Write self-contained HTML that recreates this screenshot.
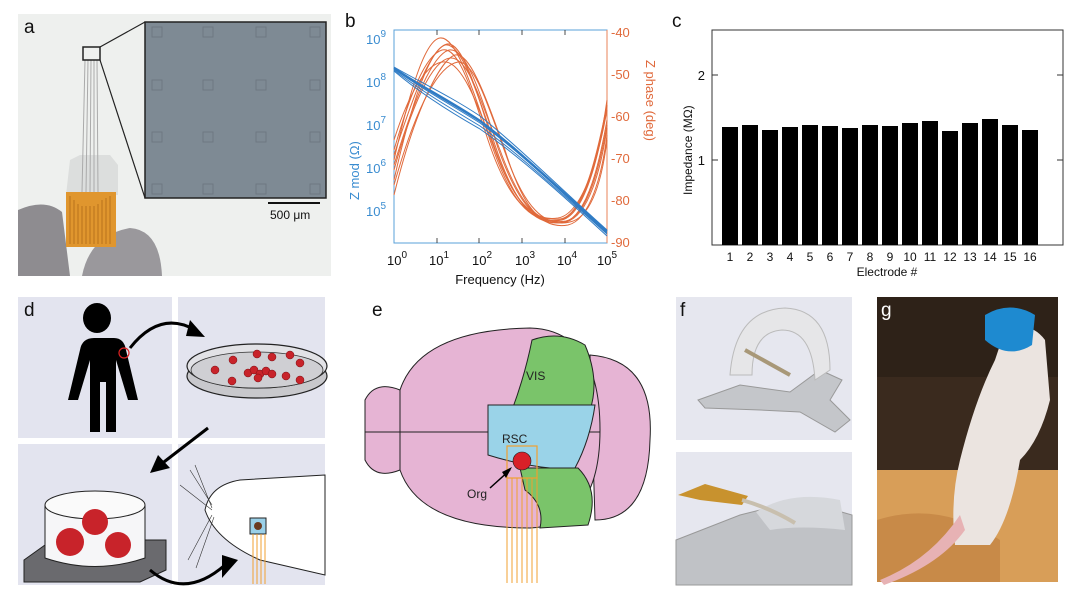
<!DOCTYPE html>
<html><head><meta charset="utf-8"><style>
html,body{margin:0;padding:0;background:#fff;}
svg{display:block;font-family:"Liberation Sans",sans-serif;}
</style></head><body>
<svg width="1080" height="598" viewBox="0 0 1080 598" xmlns="http://www.w3.org/2000/svg">
<!-- panel a -->
<rect x="18" y="14" width="313" height="262" fill="#eef0ee"/>
<path d="M18 210 Q45 198 62 212 L70 276 L18 276Z" fill="#8e8c90"/>
<path d="M82 276 Q90 235 130 228 Q160 230 162 276Z" fill="#9a989c"/>
<path d="M70 160 L80 155 L110 155 L118 165 L118 195 L66 195Z" fill="#dcdedd"/>
<rect x="66" y="192" width="50" height="55" fill="#e0962e"/>
<g stroke="#b06a18" stroke-width="0.8" fill="none"><path d="M70 196 v48 M74 200 v44 M78 204 v40 M82 206 v38 M86 206 v38 M90 206 v38 M94 206 v38 M98 204 v40 M102 200 v44 M106 198 v46 M110 196 v48"/></g>
<g stroke="#aaa" stroke-width="1"><path d="M85 60 L82 192 M88 60 L86 192 M91 60 L90 192 M94 60 L94 192 M97 60 L98 192"/></g>
<rect x="83" y="47" width="17" height="13" fill="none" stroke="#222" stroke-width="1.5"/>
<path d="M100 47 L145 22 M100 60 L145 198" stroke="#222" stroke-width="1.2"/>
<rect x="145" y="22" width="181" height="176" fill="#7e8a94" stroke="#222" stroke-width="1.5"/>
<g fill="none" stroke="#6e7882" stroke-width="1">
<rect x="152" y="27" width="10" height="10"/><rect x="203" y="27" width="10" height="10"/><rect x="256" y="27" width="10" height="10"/><rect x="310" y="27" width="10" height="10"/>
<rect x="152" y="80" width="10" height="10"/><rect x="203" y="80" width="10" height="10"/><rect x="256" y="80" width="10" height="10"/><rect x="310" y="80" width="10" height="10"/>
<rect x="152" y="132" width="10" height="10"/><rect x="203" y="132" width="10" height="10"/><rect x="256" y="132" width="10" height="10"/><rect x="310" y="132" width="10" height="10"/>
<rect x="152" y="184" width="10" height="10"/><rect x="203" y="184" width="10" height="10"/><rect x="256" y="184" width="10" height="10"/><rect x="310" y="184" width="10" height="10"/>
</g>
<line x1="268" y1="203" x2="320" y2="203" stroke="#111" stroke-width="2"/>
<text x="270" y="219" font-size="12" fill="#111">500 μm</text>
<text x="24" y="33" font-size="19" fill="#111">a</text>

<!-- panel b -->
<text x="345" y="27" font-size="19" fill="#111">b</text>
<rect x="394" y="30" width="213" height="213" fill="#fff" stroke="#5aa0d8" stroke-width="1"/>
<line x1="607" y1="30" x2="607" y2="243" stroke="#e8835a"/>
<g font-size="13" fill="#3a8cd0" text-anchor="end">
<text x="386" y="44">10<tspan font-size="10" dy="-7">9</tspan></text>
<text x="386" y="87">10<tspan font-size="10" dy="-7">8</tspan></text>
<text x="386" y="130">10<tspan font-size="10" dy="-7">7</tspan></text>
<text x="386" y="173">10<tspan font-size="10" dy="-7">6</tspan></text>
<text x="386" y="216">10<tspan font-size="10" dy="-7">5</tspan></text>
</g>
<text transform="translate(359,200) rotate(-90)" font-size="13" fill="#3a8cd0">Z mod (Ω)</text>
<g font-size="13" fill="#e06a3c">
<text x="611" y="37">-40</text><text x="611" y="79">-50</text><text x="611" y="121">-60</text>
<text x="611" y="163">-70</text><text x="611" y="205">-80</text><text x="611" y="247">-90</text>
</g>
<text transform="translate(646,60) rotate(90)" font-size="13" fill="#e06a3c">Z phase (deg)</text>
<g font-size="13" fill="#111" text-anchor="middle">
<text x="397" y="265">10<tspan font-size="10" dy="-7">0</tspan></text>
<text x="439" y="265">10<tspan font-size="10" dy="-7">1</tspan></text>
<text x="482" y="265">10<tspan font-size="10" dy="-7">2</tspan></text>
<text x="525" y="265">10<tspan font-size="10" dy="-7">3</tspan></text>
<text x="567" y="265">10<tspan font-size="10" dy="-7">4</tspan></text>
<text x="607" y="265">10<tspan font-size="10" dy="-7">5</tspan></text>
</g>
<text x="500" y="284" font-size="13" fill="#111" text-anchor="middle">Frequency (Hz)</text>
<g stroke="#222" stroke-width="0.8">
<path d="M437 243v-5M479 243v-5M522 243v-5M565 243v-5M437 30v5M479 30v5M522 30v5M565 30v5"/>
</g>
<g fill="none" stroke="#e0693a" stroke-width="1">
<path d="M394 160 C410 90 425 40 440 38 C455 36 470 80 490 140 C510 200 530 225 560 220 C585 215 600 150 607 100"/>
<path d="M394 180 C412 100 430 50 445 45 C460 42 475 85 495 145 C515 205 535 228 565 222 C588 215 600 160 607 120"/>
<path d="M394 150 C410 95 425 55 442 50 C458 46 470 85 488 140 C508 200 530 222 558 218 C582 214 598 160 607 110"/>
<path d="M394 195 C415 110 440 60 455 55 C470 52 485 95 505 150 C522 205 540 230 568 225 C590 220 602 175 607 135"/>
<path d="M394 170 C412 105 432 60 450 58 C468 56 480 100 500 150 C520 205 538 226 566 221 C588 216 600 165 607 125"/>
<path d="M394 140 C410 90 428 60 446 62 C462 64 476 100 493 145 C512 200 532 222 560 219 C584 216 598 150 607 105"/>
<path d="M394 185 C418 100 440 65 458 62 C474 60 488 105 506 155 C524 206 544 228 570 222 C592 217 602 180 607 140"/>
<path d="M394 155 C412 100 430 48 447 44 C462 42 475 85 492 140 C512 200 532 226 562 220 C586 214 600 150 607 105"/>
<path d="M394 165 C414 100 432 55 449 50 C466 47 480 92 498 148 C518 204 538 228 566 222 C589 216 601 168 607 128"/>
</g>
<g fill="none" stroke="#2f7bc4" stroke-width="1">
<path d="M394 68 C420 85 450 100 480 120 C520 150 560 190 607 232"/>
<path d="M394 70 C420 90 450 108 480 126 C520 155 560 192 607 234"/>
<path d="M394 67 C420 82 450 96 480 116 C520 148 560 188 607 230"/>
<path d="M394 69 C420 88 450 104 480 123 C520 152 560 191 607 233"/>
<path d="M394 71 C420 93 450 112 480 129 C520 157 560 193 607 236"/>
<path d="M394 68 C420 86 450 102 480 121 C520 151 560 190 607 231" stroke-width="2"/>
</g>

<!-- panel c -->
<text x="672" y="27" font-size="19" fill="#111">c</text>
<rect x="712" y="30" width="351" height="215" fill="#fff" stroke="#333" stroke-width="1"/>
<g font-size="13" fill="#111" text-anchor="end"><text x="705" y="80">2</text><text x="705" y="165">1</text></g>
<path d="M712 75h6M712 160h6M1063 75h-6M1063 160h-6" stroke="#333"/>
<text transform="translate(692,195) rotate(-90)" font-size="12" fill="#111">Impedance (MΩ)</text>
<g fill="#000">
<rect x="722" y="127" width="16" height="118"/><rect x="742" y="125" width="16" height="120"/>
<rect x="762" y="130" width="16" height="115"/><rect x="782" y="127" width="16" height="118"/>
<rect x="802" y="125" width="16" height="120"/><rect x="822" y="126" width="16" height="119"/>
<rect x="842" y="128" width="16" height="117"/><rect x="862" y="125" width="16" height="120"/>
<rect x="882" y="126" width="16" height="119"/><rect x="902" y="123" width="16" height="122"/>
<rect x="922" y="121" width="16" height="124"/><rect x="942" y="131" width="16" height="114"/>
<rect x="962" y="123" width="16" height="122"/><rect x="982" y="119" width="16" height="126"/>
<rect x="1002" y="125" width="16" height="120"/><rect x="1022" y="130" width="16" height="115"/>
</g>
<g font-size="12" fill="#111" text-anchor="middle">
<text x="730" y="261">1</text><text x="750" y="261">2</text><text x="770" y="261">3</text><text x="790" y="261">4</text>
<text x="810" y="261">5</text><text x="830" y="261">6</text><text x="850" y="261">7</text><text x="870" y="261">8</text>
<text x="890" y="261">9</text><text x="910" y="261">10</text><text x="930" y="261">11</text><text x="950" y="261">12</text>
<text x="970" y="261">13</text><text x="990" y="261">14</text><text x="1010" y="261">15</text><text x="1030" y="261">16</text>
</g>
<text x="887" y="276" font-size="12" fill="#111" text-anchor="middle">Electrode #</text>

<!-- panel d -->
<g fill="#e3e4ef">
<rect x="18" y="297" width="154" height="141"/><rect x="178" y="297" width="147" height="141"/>
<rect x="18" y="444" width="154" height="141"/><rect x="178" y="444" width="147" height="141"/>
</g>
<text x="24" y="316" font-size="19" fill="#111">d</text>
<g fill="#000">
<ellipse cx="97" cy="318" rx="14" ry="15"/>
<path d="M80 338 h34 q10 0 12 12 l12 50 h-10 l-12 -40 v72 h-10 v-50 h-6 v50 h-10 v-72 l-12 40 h-10 l12 -50 q2 -12 14 -12z"/>
</g>
<circle cx="124" cy="353" r="5" fill="none" stroke="#d22" stroke-width="1.2"/>
<path d="M130 348 Q160 310 195 330" fill="none" stroke="#000" stroke-width="3"/>
<path d="M190 320 L205 337 L186 336Z" fill="#000"/>
<ellipse cx="257" cy="376" rx="70" ry="22" fill="#c8c8cc" stroke="#222" stroke-width="1.2"/>
<ellipse cx="257" cy="366" rx="70" ry="22" fill="#e2e2e6" stroke="#222" stroke-width="1.2"/>
<ellipse cx="257" cy="370" rx="66" ry="18" fill="#cfcfd3" stroke="#333" stroke-width="0.8"/>
<g fill="#c8232a" stroke="#7a1015" stroke-width="0.5">
<circle cx="215" cy="370" r="4"/><circle cx="233" cy="360" r="4"/><circle cx="257" cy="354" r="4"/><circle cx="272" cy="357" r="4"/>
<circle cx="290" cy="355" r="4"/><circle cx="300" cy="363" r="4"/><circle cx="232" cy="381" r="4"/><circle cx="286" cy="376" r="4"/><circle cx="300" cy="380" r="4"/>
<circle cx="248" cy="373" r="4"/><circle cx="254" cy="370" r="4"/><circle cx="260" cy="374" r="4"/><circle cx="266" cy="371" r="4"/><circle cx="272" cy="374" r="4"/><circle cx="258" cy="378" r="4"/>
</g>
<path d="M208 428 L160 465" stroke="#000" stroke-width="3"/>
<path d="M150 473 L158 455 L170 468Z" fill="#000"/>
<path d="M24 560 L52 540 L166 540 L166 570 L140 582 L24 582Z" fill="#6a6a6e" stroke="#222"/>
<path d="M45 505 L45 558 Q95 575 145 558 L145 505" fill="#f6f6f8" stroke="#222"/>
<ellipse cx="95" cy="505" rx="50" ry="14" fill="#fafafa" stroke="#222"/>
<g fill="#c8232a"><circle cx="95" cy="522" r="13"/><circle cx="70" cy="542" r="14"/><circle cx="118" cy="545" r="13"/></g>
<path d="M150 570 Q185 600 225 565" fill="none" stroke="#000" stroke-width="3"/>
<path d="M222 555 L238 560 L222 578Z" fill="#000"/>
<path d="M325 475 L240 480 Q210 485 205 510 Q215 540 260 560 L325 575Z" fill="#fff" stroke="#222"/>
<g stroke="#333" stroke-width="0.6"><path d="M212 505 L190 470 M212 508 L195 465 M212 515 L188 560 M214 517 L196 568 M212 510 L180 485"/></g>
<rect x="250" y="518" width="16" height="16" fill="#9ad0e8" stroke="#222"/>
<circle cx="258" cy="526" r="4" fill="#6a3a20"/>
<g stroke="#f0a030" stroke-width="1"><path d="M253 534v50M257 534v50M261 534v50M265 534v50"/></g>

<!-- panel e -->
<text x="372" y="316" font-size="19" fill="#111">e</text>
<path d="M590 355 Q655 360 650 440 Q648 520 595 520Z" fill="#e6b4d4" stroke="#222"/>
<path d="M365 400 Q375 380 400 390 L400 470 Q375 480 365 460Z" fill="#e6b4d4" stroke="#222"/>
<path d="M400 390 Q420 330 530 328 Q600 330 600 430 Q600 525 530 528 Q420 528 400 470Z" fill="#e6b4d4" stroke="#222"/>
<path d="M365 432 H600" stroke="#222"/>
<path d="M532 340 Q560 330 585 345 Q600 380 590 410 H512 Q525 375 532 340Z" fill="#7ac46a" stroke="#222"/>
<path d="M488 405 H595 Q590 440 575 468 H550 Q520 465 488 455Z" fill="#9ad3e8" stroke="#222"/>
<path d="M520 468 H578 Q600 490 588 525 L540 528 Q545 505 525 490Z" fill="#7ac46a" stroke="#222"/>
<text x="526" y="380" font-size="12" fill="#222">VIS</text>
<text x="502" y="443" font-size="12" fill="#222">RSC</text>
<rect x="507" y="446" width="30" height="32" fill="none" stroke="#f0a030" stroke-width="1.2"/>
<circle cx="522" cy="461" r="9" fill="#d82028" stroke="#222" stroke-width="0.6"/>
<g stroke="#f0a030" stroke-width="1"><path d="M507 478v105M512 478v105M517 478v105M522 478v105M527 478v105M532 478v105M537 478v105"/></g>
<path d="M490 488 L510 470" stroke="#000" stroke-width="1.5"/>
<path d="M512 467 L506 478 L502 472Z" fill="#000"/>
<text x="467" y="498" font-size="12" fill="#222">Org</text>

<!-- panel f -->
<rect x="676" y="297" width="176" height="143" fill="#e6e7ef"/>
<rect x="676" y="452" width="176" height="133" fill="#e6e7ef"/>
<text x="680" y="316" font-size="19" fill="#111">f</text>
<path d="M698 400 L740 385 L790 392 L820 370 L842 380 L830 400 L850 420 L835 432 L800 412 L760 410 L705 408Z" fill="#c4c6ca" stroke="#999"/>
<path d="M730 375 Q735 310 785 308 Q830 310 830 370 L815 380 Q812 330 782 330 Q752 332 752 375Z" fill="#e6e6e8" stroke="#bbb"/>
<path d="M745 350 L790 375" stroke="#a89878" stroke-width="4"/>
<path d="M676 540 L740 515 L800 500 L852 515 L852 585 L676 585Z" fill="#c0c2c6" stroke="#999"/>
<path d="M756 512 Q790 490 840 500 L845 530 Q800 525 770 530Z" fill="#d6d8dc"/>
<path d="M678 495 L705 484 L748 496 L742 505 L700 500Z" fill="#c8922e"/>
<path d="M742 500 Q770 508 795 523" stroke="#c8bfae" stroke-width="4" fill="none"/>
<!-- panel g -->
<rect x="877" y="297" width="181" height="285" fill="#3a2a1e"/>
<rect x="877" y="297" width="181" height="80" fill="#2e2218"/>
<rect x="877" y="470" width="181" height="112" fill="#d89e58"/>
<path d="M877 520 Q940 500 1000 540 L1000 582 L877 582Z" fill="#c88a48"/>
<path d="M1005 330 Q1030 320 1045 340 L1050 400 Q1040 440 1020 460 Q1010 520 990 545 L955 545 Q950 500 960 460 Q975 400 995 360Z" fill="#ebe4e0"/>
<path d="M960 515 Q930 560 880 580 L884 585 Q940 565 965 530Z" fill="#e7b2b4"/>
<path d="M985 315 Q1010 300 1035 315 L1032 345 Q1008 360 985 340Z" fill="#1e8ad0"/>
<text x="881" y="316" font-size="19" fill="#fff">g</text>
</svg>
</body></html>
